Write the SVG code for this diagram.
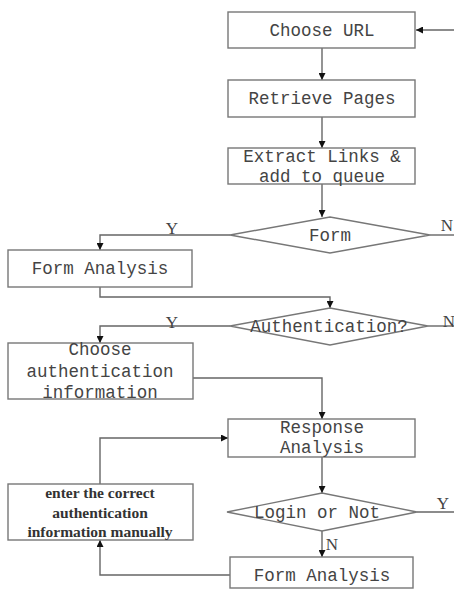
<svg xmlns="http://www.w3.org/2000/svg" width="454" height="591" viewBox="0 0 454 591">
<defs>
<marker id="ah" viewBox="0 0 10 10" refX="10" refY="5" markerWidth="7" markerHeight="7" orient="auto" markerUnits="userSpaceOnUse">
<path d="M0,0 L10,5 L0,10 z" fill="#111"/>
</marker>
<style>
.box{fill:#fff;stroke:#777;stroke-width:1.4}
.t{font-family:"Liberation Mono",monospace;font-size:17.5px;fill:#444;text-anchor:middle}
.b{font-family:"Liberation Serif",serif;font-size:15.5px;font-weight:bold;fill:#333;text-anchor:middle}
.l{font-family:"Liberation Serif",serif;font-size:17px;fill:#444;text-anchor:middle}
.c{fill:none;stroke:#666;stroke-width:1.4}
</style>
</defs>
<rect width="454" height="591" fill="#fff"/>
<g id="connectors">
<path class="c" d="M454,30 H416" marker-end="url(#ah)"/>
<path class="c" d="M322,48 V80" marker-end="url(#ah)"/>
<path class="c" d="M322,117 V148" marker-end="url(#ah)"/>
<path class="c" d="M322,184 V217" marker-end="url(#ah)"/>
<path class="c" d="M230,235 H100 V250" marker-end="url(#ah)"/>
<path class="c" d="M430,235 H454"/>
<path class="c" d="M100,287 V297 H330 V308" marker-end="url(#ah)"/>
<path class="c" d="M230,326 H100 V343" marker-end="url(#ah)"/>
<path class="c" d="M428,326 H454"/>
<path class="c" d="M193,378 H322 V419" marker-end="url(#ah)"/>
<path class="c" d="M100,484 V438 H228" marker-end="url(#ah)"/>
<path class="c" d="M322,457 V493" marker-end="url(#ah)"/>
<path class="c" d="M417,512 H454"/>
<path class="c" d="M322,531 V557" marker-end="url(#ah)"/>
<path class="c" d="M230,575 H100 V540" marker-end="url(#ah)"/>
</g>
<g id="n_choose_url"><rect class="box" x="228" y="12" width="187" height="36"/><text class="t" x="322" y="36">Choose URL</text></g>
<g id="n_retrieve"><rect class="box" x="228" y="80" width="187" height="37"/><text class="t" x="322" y="104">Retrieve Pages</text></g>
<g id="n_extract"><rect class="box" x="228" y="148" width="187" height="36"/><text class="t" x="322" y="162">Extract Links &amp;</text><text class="t" x="322" y="182">add to queue</text></g>
<g id="n_form"><polygon class="box" points="230,235 330,217 430,235 330,253"/><text class="t" x="330" y="241">Form</text></g>
<g id="n_form_analysis1"><rect class="box" x="8" y="250" width="184" height="37"/><text class="t" x="100" y="274">Form Analysis</text></g>
<g id="n_auth"><polygon class="box" points="230,326 330,308 428,326 330,345"/><text class="t" x="329" y="332">Authentication?</text></g>
<g id="n_choose_auth"><rect class="box" x="8" y="343" width="185" height="56"/><text class="t" x="100" y="355">Choose</text><text class="t" x="100" y="377">authentication</text><text class="t" x="100" y="398">information</text></g>
<g id="n_response"><rect class="box" x="228" y="419" width="187" height="38"/><text class="t" x="322" y="433">Response</text><text class="t" x="322" y="453">Analysis</text></g>
<g id="n_enter"><rect class="box" x="8" y="484" width="185" height="56"/><text class="b" x="100" y="498">enter the correct</text><text class="b" x="100" y="518">authentication</text><text class="b" x="100" y="537">information manually</text></g>
<g id="n_login"><polygon class="box" points="227,512 322,493 417,512 322,531"/><text class="t" x="317" y="518">Login or Not</text></g>
<g id="n_form_analysis2"><rect class="box" x="230" y="557" width="183" height="31"/><text class="t" x="322" y="581">Form Analysis</text></g>
<g id="labels">
<text class="l" x="172" y="234">Y</text>
<text class="l" x="447" y="231">N</text>
<text class="l" x="172" y="328">Y</text>
<text class="l" x="449" y="327">N</text>
<text class="l" x="443" y="509">Y</text>
<text class="l" x="332" y="550">N</text>
</g>
</svg>
